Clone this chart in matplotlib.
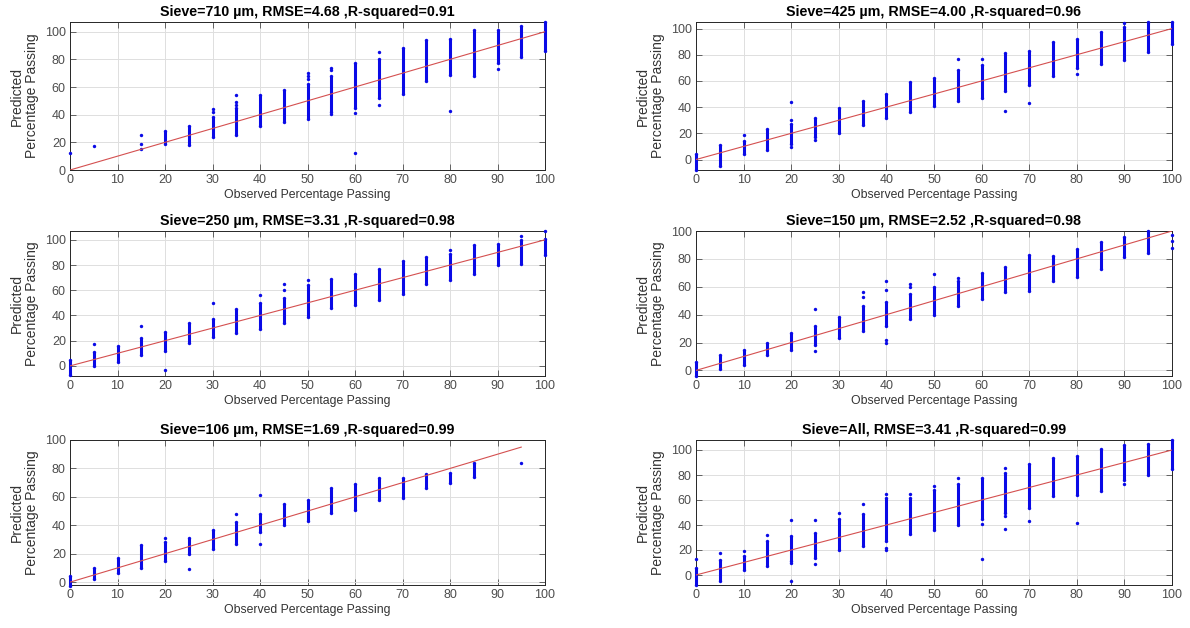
#!/usr/bin/env python3
# -*- coding: utf-8 -*-
"""Observed vs predicted percentage passing, one panel per sieve."""
import numpy as np
import matplotlib

matplotlib.use("Agg")
import matplotlib.pyplot as plt  # noqa: E402

plt.rcParams["font.family"] = ["Liberation Sans", "DejaVu Sans"]

OBS = [0, 5, 10, 15, 20, 25, 30, 35, 40, 45, 50, 55, 60, 65, 70, 75, 80, 85, 90, 95, 100]
nan = float("nan")

LO_710 = [nan, nan, nan, nan, 19, 18, 24, 25, 32, 35, 37, 42, 45, 52, 55, 64, 69, 68, 77, 82, 86]
HI_710 = [nan, nan, nan, nan, 28, 32, 38, 45, 54, 58, 62, 68, 77, 80, 88, 94, 95, 101, 101, 104, 107]
OUT_X_710 = [0, 5, 15, 15, 15, 30, 30, 35, 35, 35, 50, 50, 50, 55, 55, 55, 60, 60, 65, 65, 80, 90]
OUT_Y_710 = [12, 17.7, 15.5, 18.5, 25, 42, 44, 47, 49, 54, 66, 68, 70, 72, 74, 40.5, 41, 12.5, 85, 47, 42.5, 73]

LO_425 = [-8, -5, 4, 7, 12, 17, 20, 26, 32, 36, 41, 45, 47, 52, 57, 64, 70, 73, 76, 82, 88]
HI_425 = [4, 11, 14, 23, 27, 32, 39, 45, 50, 59, 62, 68, 72, 81, 83, 90, 92, 97, 101, 105, 105]
OUT_X_425 = [10, 20, 20, 20, 25, 55, 60, 65, 70, 80, 90]
OUT_Y_425 = [19, 9.5, 30, 44, 15, 77, 77, 37, 43, 65, 104]

LO_250 = [-7, 0, 3, 9, 12, 18, 23, 26, 29, 34, 39, 46, 48, 52, 57, 65, 68, 73, 80, 81, 88]
HI_250 = [5, 11, 16, 22, 27, 34, 37, 45, 50, 54, 64, 69, 73, 77, 83, 86, 89, 96, 97, 100, 101]
OUT_X_250 = [5, 15, 20, 30, 40, 45, 45, 50, 80, 95, 100]
OUT_Y_250 = [17.5, 32, -3, 50, 56.5, 65, 60, 68, 92, 103, 107]

LO_150 = [-4, 1, 4, 11, 15, 18, 23, 28, 32, 37, 40, 46, 51, 56, 57, 64, 67, 73, 81, 84, nan]
HI_150 = [6, 11, 15, 20, 27, 32, 38, 46, 49, 55, 60, 64, 70, 74, 83, 82, 87, 92, 96, 100, nan]
OUT_X_150 = [25, 25, 35, 35, 40, 40, 40, 40, 45, 45, 50, 55, 100, 100, 100]
OUT_Y_150 = [44, 14, 56.5, 53, 64, 58, 20, 22, 60, 62, 69.5, 66.5, 97, 93, 87.5]

LO_106 = [-3, 2, 6.5, 10, 15, 20, 23, 27, 35, 40, 43, 49, 51, 58, 59, 66, 70, 74, nan, nan, nan]
HI_106 = [4, 10, 17, 26, 28, 31, 37, 42, 48, 55, 58, 66, 69, 73, 73, 76, 77, 84, nan, nan, nan]
OUT_X_106 = [20, 25, 35, 40, 40, 95]
OUT_Y_106 = [31, 9.5, 48, 61, 27, 84]

LO_ALL = [-8, -5, 4, 7, 11, 14, 20, 23, 27, 33, 36, 40, 45, 50, 54, 63, 64, 67, 76, 80, 85]
HI_ALL = [6, 12, 15, 27, 31, 34, 45, 49, 62, 62, 68, 73, 78, 82, 89, 94, 95, 101, 104, 105, 108]
OUT_X_ALL = [0, 5, 10, 15, 20, 20, 20, 25, 25, 30, 35, 40, 40, 40, 45, 50, 55,
             60, 60, 65, 65, 65, 70, 80, 90]
OUT_Y_ALL = [12.5, 17.7, 19.5, 32, 44, -4.5, 10, 44, 9, 50, 57, 65, 20, 22, 65, 71, 78,
             12.5, 41, 86, 47, 37, 43, 42, 73]

TITLES = ["Sieve=710 \u00b5m, RMSE=4.68 ,R-squared=0.91",
          "Sieve=425 \u00b5m, RMSE=4.00 ,R-squared=0.96",
          "Sieve=250 \u00b5m, RMSE=3.31 ,R-squared=0.98",
          "Sieve=150 \u00b5m, RMSE=2.52 ,R-squared=0.98",
          "Sieve=106 \u00b5m, RMSE=1.69 ,R-squared=0.99",
          "Sieve=All, RMSE=3.41 ,R-squared=0.99"]
YLIMS = [(0, 107), (-8, 105), (-8, 107), (-4, 100), (-2, 100), (-8, 108)]
LINE_END = [100, 100, 100, 100, 95, 100]

PANELS = [(LO_710, HI_710, OUT_X_710, OUT_Y_710),
          (LO_425, HI_425, OUT_X_425, OUT_Y_425),
          (LO_250, HI_250, OUT_X_250, OUT_Y_250),
          (LO_150, HI_150, OUT_X_150, OUT_Y_150),
          (LO_106, HI_106, OUT_X_106, OUT_Y_106),
          (LO_ALL, HI_ALL, OUT_X_ALL, OUT_Y_ALL)]

# axes boxes in figure pixels: (left, top, right, bottom)
BOXES = [(70, 22, 545, 170), (696, 22, 1172, 170),
         (70, 231, 545, 376), (696, 231, 1172, 376),
         (70, 440, 545, 585), (696, 440, 1172, 585)]

W, H = 1190, 628
BLUE = "#0a0ae6"
GREY = "#4d4d4d"


def main():
    fig = plt.figure(figsize=(W / 100, H / 100), dpi=100)
    for k, (lo, hi, ox, oy) in enumerate(PANELS):
        l, t, r, b = BOXES[k]
        ax = fig.add_axes([l / W, 1 - b / H, (r - l) / W, (b - t) / H])
        ax.grid(True, color="#dedede", lw=0.7)
        ax.set_axisbelow(True)
        x = np.asarray(OBS, float)
        lo = np.asarray(lo, float)
        hi = np.asarray(hi, float)
        ok = ~np.isnan(lo)
        ax.vlines(x[ok], lo[ok], hi[ok], colors=BLUE, lw=2.2, zorder=3, clip_on=False)
        ax.scatter(x[ok], lo[ok], s=6, color=BLUE, lw=0, zorder=3, clip_on=False)
        ax.scatter(x[ok], hi[ok], s=6, color=BLUE, lw=0, zorder=3, clip_on=False)
        ax.scatter(ox, oy, s=6, color=BLUE, lw=0, zorder=3, clip_on=False)
        e = LINE_END[k]
        ax.plot([0, e], [0, e], color="#d45050", lw=0.8, zorder=4)
        ax.set_xlim(0, 100)
        ax.set_ylim(*YLIMS[k])
        ax.set_xticks(range(0, 101, 10))
        ax.set_yticks(range(0, 101, 20))
        ax.tick_params(direction="in", length=4, width=0.6, top=True, right=True,
                       labelsize=9, colors=GREY, labelcolor=GREY, pad=3)
        for sp in ax.spines.values():
            sp.set_color("#262626")
            sp.set_linewidth(0.7)
        ax.set_title(TITLES[k], fontsize=10.3, fontweight="bold", pad=4)
        ax.set_xlabel("Observed Percentage Passing", fontsize=8.8, color="#333333", labelpad=2)
        ax.set_ylabel("Predicted\nPercentage Passing", fontsize=10, color="#333333",
                      labelpad=4, linespacing=1.1)
    fig.savefig("out.png", dpi=100)


if __name__ == "__main__":
    main()
